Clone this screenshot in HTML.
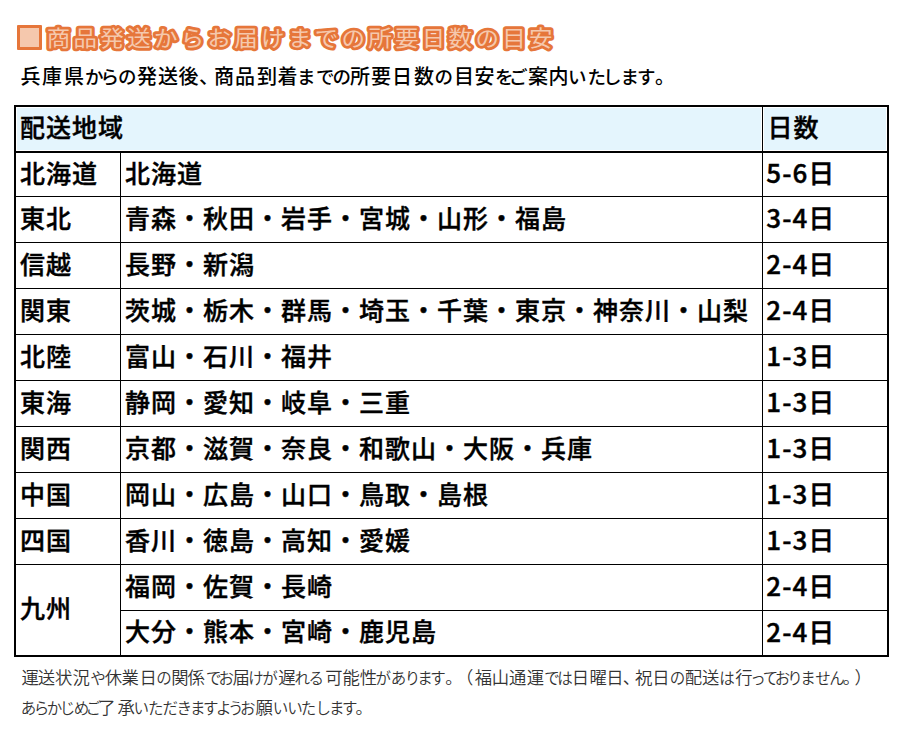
<!DOCTYPE html>
<html lang="ja">
<head>
<meta charset="utf-8">
<title>商品発送からお届けまでの所要日数の目安</title>
<style>
html,body{margin:0;padding:0;background:#fff;}
body{width:903px;height:736px;position:relative;overflow:hidden;text-spacing-trim:space-all;
  font-family:"Liberation Sans","Noto Sans CJK JP",sans-serif;color:#000;}
.ttl{position:absolute;left:0;top:0;margin:0;}
.sq{position:absolute;left:17.2px;top:25px;width:25.2px;height:25px;box-sizing:border-box;background:#f5c8ad;border:3.2px solid #e6763a;border-radius:1px;}
.tsvg{position:absolute;left:0;top:0;font-family:"Liberation Sans","Noto Sans CJK JP",sans-serif;}
.sub{position:absolute;left:20.4px;top:61.5px;font-size:20px;line-height:30px;font-weight:500;white-space:nowrap;margin:0;}
.tbl{position:absolute;left:14px;top:105px;border:2px solid #000;border-collapse:separate;border-spacing:0;table-layout:fixed;width:875px;}
.tbl th,.tbl td{padding:0 0 6px 4px;text-align:left;vertical-align:middle;white-space:nowrap;font-size:25px;letter-spacing:1px;font-weight:500;-webkit-text-stroke:0.4px #000;line-height:normal;}
.tbl th{height:46px;box-sizing:border-box;background:#e4f5fd;box-shadow:inset 0 0 0 1px #fff;border-bottom:2px solid #000;}
.tbl th:first-child{border-right:1px solid #000;}
.tbl td{border-bottom:1px solid #000;border-right:1px solid #000;box-sizing:border-box;}
.tbl td.d{border-right:0;}
.tbl tr.last td,.tbl td.last{border-bottom:0;}
.tbl .d{padding-left:3.3px;}
.tbl th.d{padding-left:4.5px;}
.tbl td.n{font-family:"Noto Sans CJK JP","Liberation Sans",sans-serif;font-size:26px;}
.tbl tbody tr{height:46px;}
.tbl tbody tr:first-child{height:44px;}
.tbl tbody tr.last{height:44px;}
.note p{position:absolute;margin:0;font-size:17.33px;line-height:30px;color:#333;font-weight:350;white-space:nowrap;}
.n1{top:663px;}
.n2{top:693px;}
</style>
</head>
<body>
<h1 class="ttl"><i class="sq"></i><svg class="tsvg" width="600" height="60" viewBox="0 0 600 60"><text transform="matrix(1 0 0 0.914 0 3)" x="46.8" y="46.8" font-size="23.5" letter-spacing="3.3" font-weight="400" fill="#f5c8ad" stroke="#e6763a" stroke-width="6" stroke-linejoin="round" paint-order="stroke">商品発送からお届けまでの所要日数の目安</text></svg></h1>
<p class="sub"><span style="letter-spacing:1.5px">兵</span><span style="letter-spacing:2px">庫</span><span style="letter-spacing:1px">県</span><span style="font-size:18.5px;letter-spacing:-3px">か</span><span style="font-size:18.5px;letter-spacing:-1px">ら</span><span style="font-size:18.5px;letter-spacing:0.5px">の</span><span style="letter-spacing:1px">発</span><span style="letter-spacing:0.5px">送後</span><span style="letter-spacing:-5px">、</span><span style="letter-spacing:1px">商</span><span style="letter-spacing:2px">品</span><span style="letter-spacing:0.5px">到</span><span style="letter-spacing:-0.5px">着</span><span style="font-size:18.5px;letter-spacing:0.5px">ま</span><span style="font-size:18.5px;letter-spacing:-2px">で</span><span style="font-size:18.5px;letter-spacing:-1px">の</span><span style="letter-spacing:1px">所要</span><span style="letter-spacing:2px">日</span><span style="letter-spacing:0.5px">数</span><span style="font-size:18.5px;letter-spacing:1px">の</span><span style="letter-spacing:0.5px">目安</span><span style="font-size:18.5px;letter-spacing:-4.5px">を</span><span style="font-size:18.5px;letter-spacing:0.5px">ご</span><span style="letter-spacing:0.5px">案</span><span style="letter-spacing:-0.5px">内</span><span style="font-size:18.5px;letter-spacing:1px">い</span><span style="font-size:18.5px;letter-spacing:-3px">た</span><span style="font-size:18.5px;letter-spacing:-1px">し</span><span style="font-size:18.5px;letter-spacing:-2px">ま</span><span style="font-size:18.5px;letter-spacing:-0.5px">す</span>。</p>

<table class="tbl">
<colgroup><col style="width:105px"><col style="width:642px"><col style="width:124px"></colgroup>
<thead><tr class="hr"><th colspan="2">配送地域</th><th class="d">日数</th></tr></thead>
<tbody>
<tr><td class="a">北海道</td><td class="b">北海道</td><td class="d n">5-6日</td></tr>
<tr><td class="a">東北</td><td class="b">青森・秋田・岩手・宮城・山形・福島</td><td class="d n">3-4日</td></tr>
<tr><td class="a">信越</td><td class="b">長野・新潟</td><td class="d n">2-4日</td></tr>
<tr><td class="a">関東</td><td class="b">茨城・栃木・群馬・埼玉・千葉・東京・神奈川・山梨</td><td class="d n">2-4日</td></tr>
<tr><td class="a">北陸</td><td class="b">富山・石川・福井</td><td class="d n">1-3日</td></tr>
<tr><td class="a">東海</td><td class="b">静岡・愛知・岐阜・三重</td><td class="d n">1-3日</td></tr>
<tr><td class="a">関西</td><td class="b">京都・滋賀・奈良・和歌山・大阪・兵庫</td><td class="d n">1-3日</td></tr>
<tr><td class="a">中国</td><td class="b">岡山・広島・山口・鳥取・島根</td><td class="d n">1-3日</td></tr>
<tr><td class="a">四国</td><td class="b">香川・徳島・高知・愛媛</td><td class="d n">1-3日</td></tr>
<tr><td rowspan="2" class="a last">九州</td><td class="b">福岡・佐賀・長崎</td><td class="d n">2-4日</td></tr>
<tr class="last"><td class="b">大分・熊本・宮崎・鹿児島</td><td class="d n">2-4日</td></tr>
</tbody></table>

<div class="note"><p class="n1" style="left:21.4px"><span style="letter-spacing:-1px">運</span>送状<span style="letter-spacing:0.5px">況</span><span style="font-size:15.5px;letter-spacing:-1px">や</span><span style="letter-spacing:-0.5px">休</span><span style="letter-spacing:0.5px">業</span><span style="letter-spacing:-0.5px">日</span><span style="font-size:15.5px;letter-spacing:-0.5px">の</span><span style="letter-spacing:-1px">関</span><span style="letter-spacing:1px">係</span><span style="font-size:15.5px;letter-spacing:-3px">で</span><span style="font-size:15.5px;letter-spacing:-1.5px">お</span><span style="letter-spacing:-1.5px">届</span><span style="font-size:15.5px;letter-spacing:-1.5px">け</span><span style="font-size:15.5px;letter-spacing:0.5px">が</span><span style="letter-spacing:-1px">遅</span><span style="font-size:15.5px;letter-spacing:-1.5px">れ</span><span style="font-size:15.5px;letter-spacing:1px">る</span>可能<span style="letter-spacing:-1.5px">性</span><span style="font-size:15.5px;letter-spacing:-0.5px">が</span><span style="font-size:15.5px;letter-spacing:-1.5px">あ</span><span style="font-size:15.5px;letter-spacing:-3px">り</span><span style="font-size:15.5px;letter-spacing:-2.5px">ま</span><span style="font-size:15.5px;letter-spacing:-0.5px">す</span><span style="letter-spacing:-6.5px">。</span><span style="letter-spacing:1.5px">（</span><span style="letter-spacing:-0.5px">福</span>山<span style="letter-spacing:0.5px">通</span>運<span style="font-size:15.5px;letter-spacing:-2.5px">で</span><span style="font-size:15.5px;letter-spacing:-1px">は</span><span style="letter-spacing:0.5px">日</span><span style="letter-spacing:-0.5px">曜</span><span style="letter-spacing:-1px">日</span><span style="letter-spacing:-5px">、</span>祝日<span style="font-size:15.5px;letter-spacing:-0.5px">の</span>配送<span style="font-size:15.5px;letter-spacing:0.5px">は</span><span style="letter-spacing:-2.5px">行</span><span style="font-size:15.5px;letter-spacing:-3px">っ</span><span style="font-size:15.5px;letter-spacing:-3.5px">て</span><span style="font-size:15.5px;letter-spacing:-3px">お</span><span style="font-size:15.5px;letter-spacing:-2.5px">り</span><span style="font-size:15.5px;letter-spacing:-0.5px">ま</span><span style="font-size:15.5px;letter-spacing:-1.5px">せ</span><span style="font-size:15.5px;letter-spacing:-2px">ん</span><span style="letter-spacing:-5.5px">。</span>）</p><p class="n2" style="left:20.7px"><span style="font-size:15.5px;letter-spacing:-2.5px">あらか</span><span style="font-size:15.5px;letter-spacing:-1.5px">じ</span><span style="font-size:15.5px;letter-spacing:-3.5px">め</span><span style="font-size:15.5px;letter-spacing:-3px">ご</span><span style="letter-spacing:2px">了</span><span style="letter-spacing:-1.5px">承</span><span style="font-size:15.5px;letter-spacing:-1px">いた</span><span style="font-size:15.5px;letter-spacing:-1.5px">だ</span><span style="font-size:15.5px;letter-spacing:-2px">き</span><span style="font-size:15.5px;letter-spacing:-2.5px">ます</span><span style="font-size:15.5px;letter-spacing:-3.5px">よう</span><span style="font-size:15.5px">お</span>願<span style="font-size:15.5px;letter-spacing:-1px">い</span><span style="font-size:15.5px;letter-spacing:-2px">い</span><span style="font-size:15.5px;letter-spacing:-1px">た</span><span style="font-size:15.5px;letter-spacing:-2px">し</span><span style="font-size:15.5px;letter-spacing:-2.5px">ま</span><span style="font-size:15.5px;letter-spacing:-2px">す</span>。</p></div>
</body>
</html>
